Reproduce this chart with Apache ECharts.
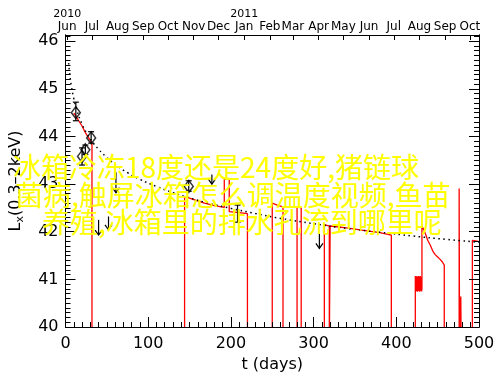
<!DOCTYPE html>
<html>
<head>
<meta charset="utf-8">
<script src="https://cdn.jsdelivr.net/npm/echarts@6/dist/echarts.min.js"></script>
<style>
html,body{margin:0;padding:0;background:#fff;}
#chart{width:500px;height:385px;}
</style>
</head>
<body>
<div id="chart"></div>
<script>
// ---- data ----
// red light curve (t in days, log Lx); 39.5 = dropped below the axis floor (gap)
const redT = [10,13,16,20,24,28,32,32,144,144,156,168,180,192,192,198,198,210,220,220,250,250,256,263,263,280,280,285,285,313,313,319,319,320,320,340,360,380,394,394,423,423,423.5,424,424.5,425,425.5,426,426.5,427,427.5,428,428.5,429,429.5,430,430.5,431,431,433,436,438,441,444,447,450,453,456,458,458,476,476,476.5,478,478,478.5,492,492,496,500];
const redL = [44.49,44.42,44.33,44.22,44.08,43.97,43.86,39.5,39.5,42.74,42.67,42.6,42.55,42.51,43.11,43.11,42.42,42.4,42.38,39.5,39.5,42.6,42.56,42.52,39.5,39.5,42.52,42.5,39.5,39.5,42.15,42.12,39.5,39.5,42.12,42.08,42.03,41.98,41.93,39.5,39.5,41.07,40.76,41.06,40.75,41.07,40.74,41.05,40.76,41.07,40.75,41.06,40.74,41.07,40.76,41.05,40.75,40.8,42.12,42.05,41.92,41.82,41.72,41.6,41.52,41.47,41.42,41.36,41.3,39.5,39.5,42.91,39.5,39.5,40.64,39.5,39.5,41.82,41.81,41.79];
// dotted model curve
const fitT = [3.8,5,7,10,14,20,26,32,40,50,62,75,90,110,130,150,175,200,230,260,300,340,380,420,460,500];
const fitL = [45.54,45.33,45.07,44.8,44.54,44.26,44.06,43.9,43.73,43.56,43.39,43.24,43.1,42.95,42.82,42.71,42.59,42.49,42.38,42.28,42.17,42.07,41.99,41.91,41.84,41.78];
// detections (diamonds) with error bars
const detT  = [12.5,20,24,31,149];
const detL  = [44.5,43.58,43.72,43.97,42.95];
const detLo = [44.33,43.4,43.62,43.86,42.85];
const detHi = [44.72,43.76,43.82,44.1,43.07];
// extra error bar without symbol
const ebT = [208];
const ebLo = [42.2];
const ebHi = [42.56];
// upper limits (arrow from top value down to end value)
const ulT   = [40,52,61,177,307];
const ulTop = [42.25,42.32,43.25,43.2,41.96];
const ulEnd = [41.93,42.04,42.82,43.0,41.65];
// axes
const monthT = [2,32,63,94,124,155,185,216,247,275,306,336,367,397,428,459,489];
const monthNames = ['Jun','Jul','Aug','Sep','Oct','Nov','Dec','Jan','Feb','Mar','Apr','May','Jun','Jul','Aug','Sep','Oct'];
const yearAt = {0:'2010', 7:'2011'};
const overlayLines = ['冰箱冷冻18度还是24度好,猪链球','菌病,触屏冰箱怎么调温度视频,鱼苗','养殖,冰箱里的排水孔流到哪里呢'];

// ---- chart ----
const FONT = 'DejaVu Sans';
const chart = echarts.init(document.getElementById('chart'), null, {renderer:'canvas'});
const black = '#000';
function yAx(pos, major, showLabels){
  return {
    type:'value', position:pos, offset:0, min:40, max:46.13,
    interval: major ? 1 : 0.1, z:10,
    axisLine:{show:true, onZero:false, lineStyle:{color:black, width:1}},
    axisTick:{show:true, inside:true, length: major ? 10 : 5, lineStyle:{color:black, width:1}},
    axisLabel:{show:showLabels, color:black, fontFamily:FONT, fontSize:16, margin:7, showMaxLabel:false},
    splitLine:{show:false},
    name: showLabels ? '{a|L}{b|x}{a|(0.3–2keV)}' : '',
    nameLocation:'middle', nameGap:40, nameRotate:90,
    nameTextStyle:{color:black, fontFamily:FONT, rich:{a:{fontSize:16, fontFamily:FONT, color:black}, b:{fontSize:11, fontFamily:FONT, color:black, padding:[8,0,0,0]}}}
  };
}
const option = {
  backgroundColor:'#fff',
  animation:false,
  grid:{left:63.5, right:21, top:35, bottom:58, containLabel:false},
  xAxis:[
    {type:'value', position:'bottom', min:0, max:500, interval:100, z:10,
     axisLine:{show:true, onZero:false, lineStyle:{color:black, width:1}},
     axisTick:{show:true, inside:true, length:10, lineStyle:{color:black}},
     minorTick:{show:true, splitNumber:10, length:5, lineStyle:{color:black}},
     axisLabel:{color:black, fontFamily:FONT, fontSize:16, margin:9},
     splitLine:{show:false}, minorSplitLine:{show:false},
     name:'t (days)', nameLocation:'middle', nameGap:29,
     nameTextStyle:{color:black, fontFamily:FONT, fontSize:16}},
    {type:'value', position:'top', min:0, max:500, z:10,
     axisLine:{show:true, onZero:false, lineStyle:{color:black, width:1}},
     axisTick:{show:true, inside:true, length:5, customValues:monthT, lineStyle:{color:black}},
     axisLabel:{show:true, customValues:monthT, margin:2, color:black,
       formatter:function(v){
         const i = monthT.indexOf(v);
         const m = monthNames[i];
         return yearAt[i] ? '{y|' + yearAt[i] + '}\n{m|' + m + '}' : '{m|' + m + '}';
       },
       rich:{y:{fontSize:11, fontFamily:FONT, color:black, lineHeight:11}, m:{fontSize:12, fontFamily:FONT, color:black, lineHeight:13}}},
     splitLine:{show:false}}
  ],
  yAxis:[ yAx('left', true, true), yAx('left', false, false), yAx('right', true, false), yAx('right', false, false) ],
  series:[
    {type:'line', name:'lc', xAxisIndex:0, yAxisIndex:0, showSymbol:false, symbol:'none', z:2, clip:true,
     lineStyle:{color:'#ff0000', width:1.3}, data: redT.map((t,i)=>[t, redL[i]])},
    {type:'line', name:'fit', xAxisIndex:0, yAxisIndex:0, showSymbol:false, symbol:'none', smooth:true, z:3,
     lineStyle:{color:black, width:1.5, type:[1.5,3.5]}, data: fitT.map((t,i)=>[t, fitL[i]])},
    {type:'custom', name:'err', xAxisIndex:0, yAxisIndex:0, z:4,
     data: detT.map((t,i)=>[t, detLo[i], detHi[i]]).concat(ebT.map((t,i)=>[t, ebLo[i], ebHi[i]])),
     renderItem:function(params, api){
       const a = api.coord([api.value(0), api.value(1)]);
       const b = api.coord([api.value(0), api.value(2)]);
       const st = {stroke:black, lineWidth:1.2};
       return {type:'group', children:[
         {type:'line', shape:{x1:a[0], y1:a[1], x2:b[0], y2:b[1]}, style:st},
         {type:'line', shape:{x1:a[0]-3, y1:a[1], x2:a[0]+3, y2:a[1]}, style:st},
         {type:'line', shape:{x1:b[0]-3, y1:b[1], x2:b[0]+3, y2:b[1]}, style:st}
       ]};
     }},
    {type:'custom', name:'ul', xAxisIndex:0, yAxisIndex:0, z:4,
     data: ulT.map((t,i)=>[t, ulTop[i], ulEnd[i]]),
     renderItem:function(params, api){
       const a = api.coord([api.value(0), api.value(1)]);
       const b = api.coord([api.value(0), api.value(2)]);
       const st = {stroke:black, lineWidth:1.2};
       return {type:'group', children:[
         {type:'line', shape:{x1:a[0], y1:a[1], x2:b[0], y2:b[1]}, style:st},
         {type:'polyline', shape:{points:[[b[0]-3.5, b[1]-5],[b[0], b[1]],[b[0]+3.5, b[1]-5]]}, style:{stroke:black, lineWidth:1.2, fill:null}}
       ]};
     }},
    {type:'scatter', name:'det', xAxisIndex:0, yAxisIndex:0, z:5,
     symbol:'diamond', symbolSize:[9,12],
     itemStyle:{color:'rgba(255,255,255,0)', borderColor:black, borderWidth:1.5},
     data: detT.map((t,i)=>[t, detL[i]])}
  ],
  graphic:[
    {type:'text', z:100, x:13, y:167.5, style:{text:overlayLines[0], font:'28px "Noto Sans CJK SC"', fill:'#ffff00', textAlign:'left', textVerticalAlign:'middle'}},
    {type:'text', z:100, x:15, y:195, style:{text:overlayLines[1], font:'28px "Noto Sans CJK SC"', fill:'#ffff00', textAlign:'left', textVerticalAlign:'middle'}},
    {type:'text', z:100, x:42, y:222.5, style:{text:overlayLines[2], font:'28px "Noto Sans CJK SC"', fill:'#ffff00', textAlign:'left', textVerticalAlign:'middle'}}
  ]
};
chart.setOption(option);
</script>
</body>
</html>
